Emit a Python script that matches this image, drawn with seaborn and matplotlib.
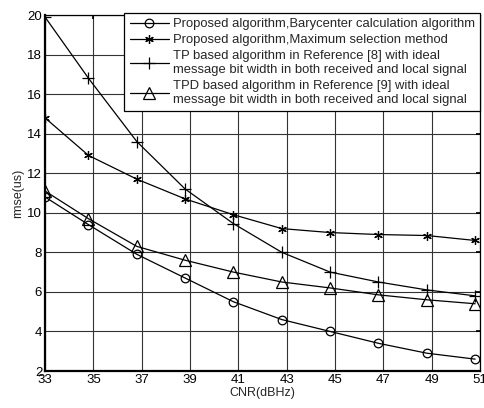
import matplotlib
matplotlib.use("Agg")
import matplotlib.pyplot as plt
import seaborn as sns
import pandas as pd

# CNR sample points (dBHz)
cnr = [33, 34.8, 36.8, 38.8, 40.8, 42.8, 44.8, 46.8, 48.8, 50.8]

# RMSE (us) for each method
rmse_barycenter = [10.8, 9.4, 7.9, 6.7, 5.5, 4.6, 4.0, 3.4, 2.9, 2.6]
rmse_max_select = [14.8, 12.9, 11.7, 10.7, 9.9, 9.2, 9.0, 8.9, 8.85, 8.6]
rmse_tp_ref8 = [19.9, 16.8, 13.6, 11.2, 9.45, 8.0, 7.0, 6.5, 6.1, 5.8]
rmse_tpd_ref9 = [11.1, 9.7, 8.3, 7.6, 7.0, 6.5, 6.2, 5.85, 5.6, 5.4]

labels = [
    "Proposed algorithm,Barycenter calculation algorithm",
    "Proposed algorithm,Maximum selection method",
    "TP based algorithm in Reference [8] with ideal\nmessage bit width in both received and local signal",
    "TPD based algorithm in Reference [9] with ideal\nmessage bit width in both received and local signal",
]
series = [rmse_barycenter, rmse_max_select, rmse_tp_ref8, rmse_tpd_ref9]
markers = ["o", (6, 2, 0), "+", "^"]
msizes = [6.2, 6.2, 9, 8]

xticks = [33, 35, 37, 39, 41, 43, 45, 47, 49, 51]
yticks = [2, 4, 6, 8, 10, 12, 14, 16, 18, 20]

sns.set_theme(style="white")
plt.rcParams["font.family"] = ["Liberation Sans", "DejaVu Sans"]

fig = plt.figure(figsize=(4.84, 4.08), dpi=100)
ax = fig.add_axes([45 / 484, 1 - 371 / 408, (480 - 45) / 484, (371 - 15) / 408])

for y, lab, mk, ms in zip(series, labels, markers, msizes):
    df = pd.DataFrame({"CNR": cnr, "rmse": y})
    sns.lineplot(data=df, x="CNR", y="rmse", ax=ax, color="black", lw=0.9,
                 marker=mk, markersize=ms, markerfacecolor="none",
                 markeredgecolor="black", markeredgewidth=0.9, label=lab)

ax.set_xlim(33, 51)
ax.set_ylim(2, 20)
ax.set_xticks(xticks)
ax.set_yticks(yticks)
ax.grid(True, color="#333333", lw=0.8)
ax.tick_params(direction="in", length=3, labelsize=9.5, colors="black",
               top=True, right=True, pad=2)
for side in ["left", "bottom"]:
    ax.spines[side].set_linewidth(1.6)
for side in ["top", "right"]:
    ax.spines[side].set_linewidth(0.9)
for sp in ax.spines.values():
    sp.set_color("black")

ax.set_xlabel("CNR(dBHz)", fontsize=9, labelpad=1)
ax.set_ylabel("rmse(us)", fontsize=9, labelpad=2)

leg = ax.legend(loc="upper right", bbox_to_anchor=(1.0, 1.006), fontsize=9.4,
                frameon=True, fancybox=False, edgecolor="black",
                handlelength=3.0, handletextpad=0.3, borderpad=0.4,
                labelspacing=0.3, borderaxespad=0)
leg.get_frame().set_linewidth(0.9)
leg.get_frame().set_alpha(1)

fig.savefig("out.png", dpi=100)
